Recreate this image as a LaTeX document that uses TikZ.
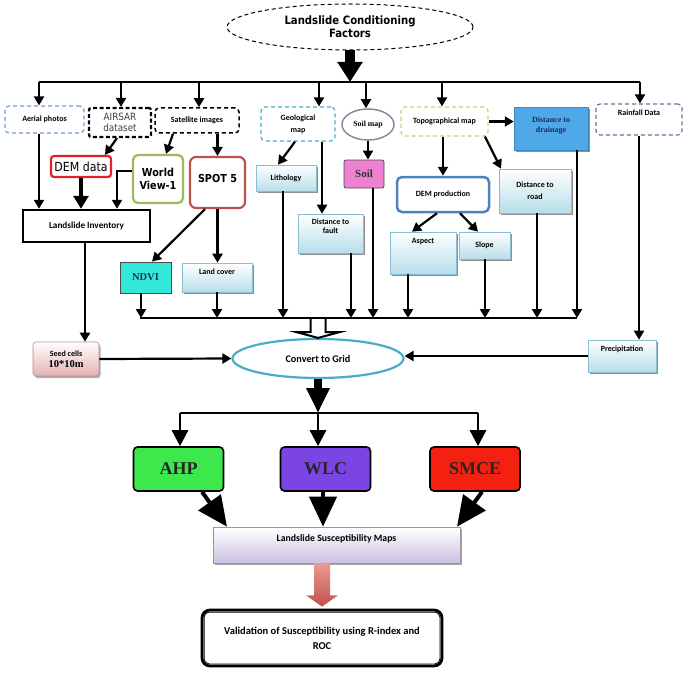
\documentclass[tikz,border=0pt]{standalone}
\usepackage{fontspec}
\setmainfont{Carlito}
\newfontfamily\tms{Liberation Serif}
\newfontfamily\tah[FakeStretch=0.88]{DejaVu Sans}
\usetikzlibrary{arrows.meta,shapes.geometric,shadows,calc}
\definecolor{lblue}{RGB}{183,222,234}
\definecolor{lbborder}{RGB}{140,190,210}
\definecolor{aerialc}{RGB}{110,156,204}
\definecolor{geoc}{RGB}{75,172,198}
\definecolor{topoc}{RGB}{200,210,122}
\definecolor{rainc}{RGB}{128,100,162}
\definecolor{drainc}{RGB}{79,168,232}
\definecolor{navy}{RGB}{25,45,95}
\definecolor{demred}{RGB}{224,32,42}
\definecolor{wvgreen}{RGB}{155,187,89}
\definecolor{spotred}{RGB}{192,80,77}
\definecolor{soilpink}{RGB}{238,130,210}
\definecolor{demblue}{RGB}{79,129,189}
\definecolor{ndvic}{RGB}{51,232,216}
\definecolor{gridc}{RGB}{75,172,198}
\definecolor{ahpc}{RGB}{60,232,76}
\definecolor{wlcc}{RGB}{123,69,230}
\definecolor{smcec}{RGB}{244,32,16}
\definecolor{pinkb}{RGB}{230,178,178}
\definecolor{lavb}{RGB}{204,193,226}
\definecolor{soilmapc}{RGB}{127,143,160}
\begin{document}
\begin{tikzpicture}[x=1pt,y=-1pt,
  txt/.style={font=\bfseries\fontsize{8}{9.5}\selectfont},
  box/.style={rectangle, inner sep=1pt, align=center, txt},
  lb/.style={box, draw=lbborder, line width=0.6pt, top color=white, bottom color=lblue,
     drop shadow={shadow xshift=1.5pt,shadow yshift=-2pt,fill=black!55,opacity=.8}},
  dsh/.style={box, dashed, dash pattern=on 4pt off 3pt, rounded corners=4pt, line width=1.2pt},
  arr/.style={-{Triangle[width=10pt,length=9pt]}, line width=2.2pt},
  arrbig/.style={-{Triangle[width=15pt,length=13pt]}, line width=3.5pt},
  arrmed/.style={-{Triangle[width=16pt,length=16pt]}, line width=2.5pt},
  arrhuge/.style={-{Triangle[width=27pt,length=30pt]}, line width=4pt},
  bus/.style={line width=2.5pt},
  model/.style={rectangle, rounded corners=4pt, draw, line width=1.6pt, minimum width=90pt, minimum height=44pt, font=\tms\bfseries\fontsize{18}{20}\selectfont, text=black!85}
]
\useasboundingbox (0,0) rectangle (685,674);
\fill[white] (0,0) rectangle (685,674);

% ---------- top ----------
\node[ellipse, draw, dashed, dash pattern=on 4pt off 3pt, line width=1pt, minimum width=246pt, minimum height=46pt, inner sep=0, align=center,
  font=\tah\bfseries\fontsize{11.5}{13}\selectfont] (top) at (350,27) {Landslide Conditioning\\Factors};

% ---------- row 1 ----------
\node[dsh, draw=aerialc, minimum width=79pt, minimum height=27pt] (aerial) at (44.5,119.5) {Aerial photos};
\node[box, draw, dashed, dash pattern=on 4pt off 2.5pt, line width=2.2pt, rounded corners=2pt, minimum width=62pt, minimum height=29pt,
  font=\tah\fontsize{10}{11.5}\selectfont, text=black!75] (airsar) at (120,122.5) {AIRSAR\\dataset};
\node[dsh, draw, line width=1.5pt, minimum width=84pt, minimum height=25pt] (satellite) at (197,120.5) {Satellite images};
\node[dsh, draw=geoc, minimum width=74pt, minimum height=34pt, font=\bfseries\fontsize{8}{12}\selectfont] (geological) at (298,124) {Geological\\map};
\node[ellipse, draw=soilmapc, line width=1.5pt, minimum width=52pt, minimum height=31pt, inner sep=0,
  font=\tms\bfseries\fontsize{7.8}{9}\selectfont] (soilmap) at (368,124.5) {Soil map};
\node[dsh, draw=topoc, minimum width=87pt, minimum height=29pt] (topo) at (444.5,121.5) {Topographical map};
\node[box, fill=drainc, draw=drainc!80!black, line width=0.5pt, minimum width=74pt, minimum height=43pt, text=navy,
  font=\tms\bfseries\fontsize{8}{10}\selectfont,
  drop shadow={shadow xshift=1.5pt,shadow yshift=-2pt,fill=black!55,opacity=.8}] (drainage) at (551,128.5) {Distance to\\drainage\\[-2pt]};
\node[dsh, draw=rainc, minimum width=86pt, minimum height=31pt] (rainfall) at (639,119.5) {Rainfall Data\\[4pt]};

% ---------- row 2 ----------
\node[box, draw=demred, line width=2.2pt, rounded corners=3pt, minimum width=60pt, minimum height=21pt,
  font=\tah\fontsize{12.5}{14}\selectfont] (demdata) at (81,166.5) {DEM data};
\node[box, draw=wvgreen, line width=2.2pt, rounded corners=5pt, minimum width=50pt, minimum height=48pt,
  font=\tah\bfseries\fontsize{11}{13}\selectfont] (worldview) at (158,179) {World\\View-1};
\node[box, draw=spotred, line width=2.2pt, rounded corners=6pt, minimum width=55pt, minimum height=51pt,
  font=\tah\bfseries\fontsize{11}{13}\selectfont] (spot) at (217.5,182.5) {SPOT 5\\[-4pt]};
\node[lb, minimum width=60pt, minimum height=26pt] (lithology) at (286,178) {Lithology};
\node[box, fill=soilpink, draw=black!70, line width=0.8pt, rounded corners=2pt, minimum width=40pt, minimum height=28pt,
  font=\tms\bfseries\fontsize{11}{13}\selectfont, text=black!80] (soil) at (364,174) {Soil};
\node[box, draw=demblue, line width=2.5pt, rounded corners=5pt, minimum width=92pt, minimum height=35pt] (demprod) at (443,194.5) {DEM production};
\node[lb, minimum width=72pt, minimum height=44pt, font=\bfseries\fontsize{8}{12}\selectfont] (road) at (535,191) {Distance to\\road};

% ---------- row 3 ----------
\node[box, draw, line width=2.5pt, minimum width=127pt, minimum height=32pt, font=\bfseries\fontsize{9.2}{11}\selectfont] (inventory) at (86.5,226) {Landslide Inventory};
\node[lb, minimum width=65pt, minimum height=39pt, font=\bfseries\fontsize{8}{9.5}\selectfont] (fault) at (330.5,233.5) {Distance to\\fault\\[5pt]};
\node[lb, minimum width=66pt, minimum height=42pt, label={[txt, anchor=north, yshift=-3pt]north:Aspect}] (aspect) at (423,253) {};
\node[lb, minimum width=51pt, minimum height=27pt] (slope) at (484.5,245.5) {Slope};
\node[box, fill=ndvic, draw=black!70, line width=0.8pt, minimum width=51pt, minimum height=31pt,
  font=\tms\bfseries\fontsize{10.5}{12}\selectfont, text=navy] (ndvi) at (145.5,277.5) {NDVI};
\node[lb, minimum width=70pt, minimum height=29pt] (landcover) at (217,277.5) {Land cover\\[3pt]};

% ---------- row 4 ----------
\node[box, draw=pinkb!80!black, line width=0.6pt, rounded corners=3pt, top color=white, bottom color=pinkb, minimum width=66pt, minimum height=34pt,
  drop shadow={shadow xshift=1.5pt,shadow yshift=-2pt,fill=black!45,opacity=.7}] (seed) at (66,359)
  {Seed cells\\[1pt]{\tms\bfseries\fontsize{10.5}{12}\selectfont 10*10m}};
\node[ellipse, draw=gridc, line width=2.2pt, minimum width=171pt, minimum height=39pt, inner sep=0,
  font=\bfseries\fontsize{10.2}{12}\selectfont] (grid) at (318,358.5) {Convert to Grid};
\node[lb, minimum width=68pt, minimum height=32pt] (precip) at (622,356) {Precipitation\\[6pt]};

% ---------- models ----------
\node[model, fill=ahpc] (ahp) at (178.5,469) {AHP};
\node[model, fill=wlcc] (wlc) at (325.5,469) {WLC};
\node[model, fill=smcec] (smce) at (475,469) {SMCE};

\node[box, draw=black!40, line width=0.6pt, top color=white, bottom color=lavb, minimum width=247pt, minimum height=36pt,
  font=\bfseries\fontsize{9.8}{11}\selectfont,
  drop shadow={shadow xshift=1.5pt,shadow yshift=-2pt,fill=black!50,opacity=.7}] (lsm) at (336.5,545) {Landslide Susceptibility Maps\\[2pt]};

\node[box, draw, line width=2.8pt, rounded corners=8pt, minimum width=240pt, minimum height=56pt,
  font=\bfseries\fontsize{10.5}{15}\selectfont] (valid) at (322,638) {Validation of Susceptibility using R-index and\\ROC};
\draw[rounded corners=5pt, line width=0.8pt] ([shift={(3.5pt,3.5pt)}]valid.south west) rectangle ([shift={(-3.5pt,-3.5pt)}]valid.north east);

% ---------- top bus ----------
\coordinate (b1) at (39,82);
\coordinate (b2) at (121,82);
\coordinate (b3) at (199,82);
\coordinate (b4) at (319,82);
\coordinate (b5) at (366,82);
\coordinate (b6) at (442,82);
\coordinate (b7) at (640,82);
\draw[bus] (b1) -- (b7);
\draw[-{Triangle[width=24pt,length=20pt]}, line width=10pt] (top.south) -- (top.south |- b1);
\draw[arr] (b1) -- (b1 |- aerial.north);
\draw[arr] (b2) -- (b2 |- airsar.north);
\draw[arr] (b3) -- (b3 |- satellite.north);
\draw[arr] (b4) -- (b4 |- geological.north);
\draw[arr] (b5) -- (b5 |- soilmap.north);
\draw[arr] (b6) -- (b6 |- topo.north);
\draw[arr] (b7) -- (b7 |- rainfall.north);

% ---------- row connectors ----------
\draw[arr] ([xshift=-3pt]airsar.south) -- ([xshift=24pt]demdata.north);
\draw[arr] ([xshift=-24pt]satellite.south) -- ([xshift=8pt]worldview.north);
\draw[arr] (spot.north |- satellite.south) -- (spot.north);
\draw[arr] (b1 |- aerial.south) -- (b1 |- inventory.north);
\draw[arrbig] (demdata.south) -- (demdata.south |- inventory.north);
\draw[arr] ([yshift=8pt]worldview.west) -| ([xshift=30.5pt]inventory.north);
\draw[arr] ([xshift=-3pt]geological.south) -- ([xshift=-8pt]lithology.north);
\coordinate (gf) at ([xshift=24pt]geological.south);
\draw[arr] (gf) -- (gf |- fault.north);
\draw[arr] (soilmap.south) -- (soilmap.south |- soil.north);
\draw[arr] (topo.east) -- (drainage.west |- topo.east);
\draw[arr] (demprod.north |- topo.south) -- (demprod.north);
\draw[arr] ([xshift=40.5pt]topo.south) -- ([xshift=-34pt]road.north);
\draw[arr] ([xshift=-6pt]demprod.south) -- ([xshift=-11pt]aspect.north);
\draw[arr] ([xshift=17pt]demprod.south) -- ([xshift=-6.5pt]slope.north);
\draw[arr] ([xshift=-12.5pt]spot.south) -- ([xshift=6.5pt]ndvi.north);
\draw[arr] (spot.south) -- (spot.south |- landcover.north);
\draw[arr] ([xshift=-1.5pt]inventory.south) -- ([xshift=-1.5pt]inventory.south |- seed.north);
\draw[arr] (rainfall.south) -- (rainfall.south |- precip.north);

% ---------- second bus ----------
\coordinate (cL) at (140,318);
\coordinate (c1) at (141,318);
\coordinate (c2) at (217,318);
\coordinate (c3) at (283,318);
\coordinate (c4) at (351,318);
\coordinate (c5) at (373,318);
\coordinate (c6) at (408,318);
\coordinate (c7) at (485,318);
\coordinate (c8) at (537,318);
\coordinate (cR) at (577,318);
\draw[bus] (cL) -- (cR);
\draw[arr] (c1 |- ndvi.south) -- (c1);
\draw[arr] (c2 |- landcover.south) -- (c2);
\draw[arr] (c3 |- lithology.south) -- (c3);
\draw[arr] (c4 |- fault.south) -- (c4);
\draw[arr] (c5 |- soil.south) -- (c5);
\draw[arr] (c6 |- aspect.south) -- (c6);
\draw[arr] (c7 |- slope.south) -- (c7);
\draw[arr] (c8 |- road.south) -- (c8);
\draw[arr] (cR |- drainage.south) -- (cR);

% hollow arrow to grid
\coordinate (ha) at (grid.north |- cL);
\draw[line width=2pt, fill=white, line join=miter]
  ($(ha)+(-7.5,1)$) -- ($(ha)+(-7.5,14)$) -- ($(ha)+(-22,14)$) -- (grid.north) -- ($(ha)+(22,14)$) -- ($(ha)+(7.5,14)$) -- ($(ha)+(7.5,1)$);

\draw[arr] (seed.east) -- (grid.west);
\draw[arr] (precip.west) -- (precip.west -| grid.east);

% ---------- third bus ----------
\coordinate (eL) at (180,413);
\coordinate (eM) at (318,413);
\coordinate (eR) at (478,413);
\draw[bus] (eL) -- (eR);
\draw[-{Triangle[width=22pt,length=25pt]}, line width=8pt] (grid.south) -- (grid.south |- eM);
\draw[arrmed] (eL) -- (eL |- ahp.north);
\draw[arrmed] (eM) -- (eM |- wlc.north);
\draw[arrmed] (eR) -- (eR |- smce.north);

\draw[arrhuge] ([xshift=23.5pt]ahp.south) -- ([xshift=-109.5pt]lsm.north);
\draw[arrhuge] ([xshift=-2.5pt]wlc.south) -- ([xshift=-2.5pt]wlc.south |- lsm.north);
\draw[arrhuge] ([xshift=7pt]smce.south) -- ([xshift=120.5pt]lsm.north);

% red block arrow
\coordinate (ra) at (valid.north |- lsm.south);
\shade[top color={rgb,255:red,235;green,155;blue,145}, bottom color={rgb,255:red,192;green,80;blue,77}]
  ($(ra)+(-8,0)$) -- ($(ra)+(8,0)$) -- ($(ra)+(8,32)$) -- ($(ra)+(16,32)$) -- ($(valid.north)+(0,-2)$) -- ($(ra)+(-16,32)$) -- ($(ra)+(-8,32)$) -- cycle;
\end{tikzpicture}
\end{document}
